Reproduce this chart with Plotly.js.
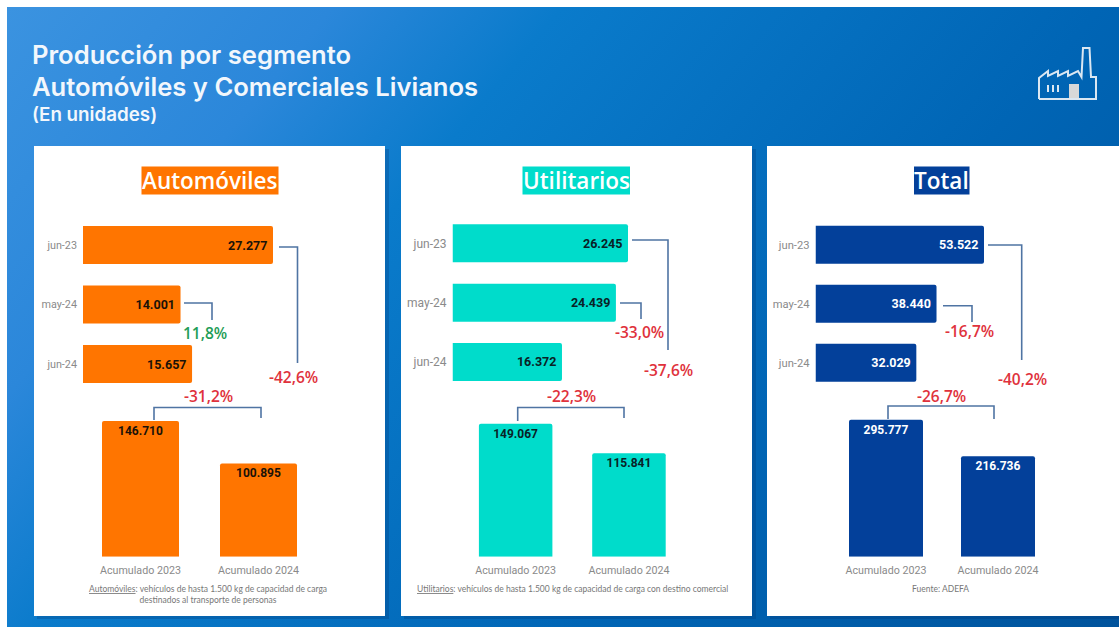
<!DOCTYPE html>
<html><head><meta charset="utf-8">
<script src="https://cdn.plot.ly/plotly-3.0.1.min.js"></script>
<style>
html,body{margin:0;padding:0;background:#fff;width:1119px;height:627px;overflow:hidden}
#bg{position:absolute;left:7px;top:7px;width:1112px;height:620px;
background:linear-gradient(130deg,#3b93e0 0%,#2b87da 20%,#0a7bcb 34%,#0065b5 67%,#00539c 100%)}
#chart{position:absolute;left:0;top:0;width:1119px;height:627px}
</style></head><body>
<div id="bg"></div><div id="chart"></div>
<script>
// ---- data ----
const monthLabels = ['jun-23','may-24','jun-24'];
const accumLabels = ['Acumulado 2023','Acumulado 2024'];
const autosMonthly = [27277,14001,15657];
const autosAccum = [146710,100895];
const utilMonthly = [26245,24439,16372];
const utilAccum = [149067,115841];
const totalMonthly = [53522,38440,32029];
const totalAccum = [295777,216736];
const autosPct = ['11,8%','-42,6%','-31,2%'];
const utilPct = ['-33,0%','-37,6%','-22,3%'];
const totalPct = ['-16,7%','-40,2%','-26,7%'];

// ---- page geometry (pixels) ----
const W=1119,H=627, px=x=>x/W, py=y=>1-y/H;
const GREEN='#1f9d57', RED='#e0323c', LINE='#4f74a3', GREY='#8a8a8a';
const HEAD='"Open Sans", sans-serif', TOP='Inter, sans-serif', NOTE='Lato, sans-serif', NUM='Roboto, sans-serif';
const panels=[
 {box:[34,146,385,616],color:'#ff7500',text:'#1a1208',title:'Automóviles',titleBox:[141.5,166.5,278.5,194.5],titleColor:'#fff',
  monthly:autosMonthly,accum:autosAccum,pct:autosPct,tick:10.8,
  h:{x0:83,pxPer:190/27277,top:215.3,pitch:59.5},v:{x0:81.5,pitch:118,width:77,bottom:556.7,pxPer:135.7/146710},
  small:[184,303,212,320],big:[279,247,297.5,363],bottom:[154,420,154,407.5,261,407.5,261,418],
  pctPos:[[205,333],[293,377],[208,396]],pctCol:[GREEN,RED,RED],
  note:'<u>Automóviles</u>: vehículos de hasta 1.500 kg de capacidad de carga<br>destinados al transporte de personas',noteXY:[208,594]},
 {box:[401,146,752,616],color:'#00dccb',text:'#0a2226',title:'Utilitarios',titleBox:[522.5,166.5,630,194.5],titleColor:'#fff',
  monthly:utilMonthly,accum:utilAccum,pct:utilPct,tick:12,
  h:{x0:452.5,pxPer:175.5/26245,top:213.7,pitch:59.3},v:{x0:459,pitch:113.3,width:73.5,bottom:556.7,pxPer:133/149067},
  small:[620,303,641,319],big:[632,240,668,350],bottom:[517.7,421,517.7,407.5,624,407.5,624,418],
  pctPos:[[639,332],[668,370],[571.5,396]],pctCol:[RED,RED,RED],
  note:'<u>Utilitarios</u>: vehículos de hasta 1.500 kg de capacidad de carga con destino comercial',noteXY:[572,589]},
 {box:[767,146,1125,616],color:'#03409a',text:'#ffffff',title:'Total',titleBox:[914,166.5,969.5,194.5],titleColor:'#fff',
  monthly:totalMonthly,accum:totalAccum,pct:totalPct,tick:11.2,
  h:{x0:815.5,pxPer:168.5/53522,top:215.2,pitch:59},v:{x0:830,pitch:112,width:74,bottom:556.7,pxPer:137/295777},
  small:[943,305.7,972,322],big:[988,245,1021.7,360],bottom:[888,419,888,406,994,406,994,419],
  pctPos:[[970,331],[1022,379],[941,396]],pctCol:[RED,RED,RED],
  note:'Fuente: ADEFA',noteXY:[940,589]}
];
const fmt=v=>String(v).replace(/\B(?=(\d{3})+$)/g,'.');

const traces=[],shapes=[],annotations=[];
const layout={width:W,height:H,margin:{l:0,r:0,t:0,b:0},paper_bgcolor:'rgba(0,0,0,0)',plot_bgcolor:'rgba(0,0,0,0)',
  showlegend:false,barcornerradius:2,hovermode:false,font:{family:NUM}};
const rect=(b,fill)=>({type:'rect',xref:'paper',yref:'paper',x0:px(b[0]),x1:px(b[2]),y0:py(b[3]),y1:py(b[1]),fillcolor:fill,line:{width:0},layer:'below'});
const poly=(pts)=>{let d='';for(let i=0;i<pts.length;i+=2)d+=(i?'L':'M')+px(pts[i])+','+py(pts[i+1]);
  return {type:'path',xref:'paper',yref:'paper',path:d,line:{color:LINE,width:1.6},layer:'above'};};

panels.forEach((p,i)=>{
  const a=2*i+1,b=2*i+2, xa='x'+(a>1?a:''), ya='y'+(a>1?a:''), xb='x'+b, yb='y'+b;
  shapes.push(rect([p.box[0]+3,p.box[1]+3,p.box[2]+4,p.box[3]+3],'rgba(0,40,100,0.22)'));
  shapes.push(rect(p.box,'#ffffff'));
  // monthly bars
  const hMax=Math.max(...p.monthly)*1.1, hW=hMax*p.h.pxPer;
  traces.push({type:'bar',orientation:'h',x:p.monthly,y:monthLabels,width:38/p.h.pitch,xaxis:xa,yaxis:ya,marker:{color:p.color},
    text:p.monthly.map(v=>fmt(v)+'\u2009'),textposition:'inside',insidetextanchor:'end',textangle:0,constraintext:'none',
    textfont:{family:NUM,size:12.5,weight:700,color:p.text},hoverinfo:'skip'});
  layout['xaxis'+(a>1?a:'')]={domain:[px(p.h.x0),px(p.h.x0+hW)],range:[0,hMax],anchor:ya,visible:false,fixedrange:true};
  layout['yaxis'+(a>1?a:'')]={domain:[py(p.h.top+3*p.h.pitch),py(p.h.top)],range:[2.5,-0.5],type:'category',anchor:xa,
    showgrid:false,zeroline:false,showline:false,ticks:'',ticklabelstandoff:5,tickfont:{family:NUM,size:p.tick,color:GREY},fixedrange:true};
  // accumulated bars
  const vMax=Math.max(...p.accum)*1.05, vH=vMax*p.v.pxPer;
  traces.push({type:'bar',x:accumLabels,y:p.accum,width:p.v.width/p.v.pitch,xaxis:xb,yaxis:yb,marker:{color:p.color},
    text:p.accum.map(fmt),textposition:'inside',insidetextanchor:'end',textangle:0,constraintext:'none',
    textfont:{family:NUM,size:12,weight:700,color:p.text},hoverinfo:'skip'});
  layout['xaxis'+b]={domain:[px(p.v.x0),px(p.v.x0+2*p.v.pitch)],range:[-0.5,1.5],type:'category',anchor:yb,
    showgrid:false,zeroline:false,showline:false,ticks:'',ticklabelstandoff:6,tickfont:{family:NUM,size:10.7,color:GREY},fixedrange:true};
  layout['yaxis'+b]={domain:[py(p.v.bottom),py(p.v.bottom-vH)],range:[0,vMax],anchor:xb,visible:false,fixedrange:true};
  // connectors
  shapes.push(poly([p.small[0],p.small[1],p.small[2],p.small[1],p.small[2],p.small[3]]));
  shapes.push(poly([p.big[0],p.big[1],p.big[2],p.big[1],p.big[2],p.big[3]]));
  shapes.push(poly(p.bottom));
  // section title
  shapes.push(rect(p.titleBox,p.color));
  annotations.push({xref:'paper',yref:'paper',x:px((p.titleBox[0]+p.titleBox[2])/2),y:py((p.titleBox[1]+p.titleBox[3])/2),
    text:p.title,showarrow:false,xanchor:'center',yanchor:'middle',font:{family:HEAD,size:22.5,weight:600,color:p.titleColor}});
  // percentages
  p.pct.forEach((t,k)=>annotations.push({xref:'paper',yref:'paper',x:px(p.pctPos[k][0]),y:py(p.pctPos[k][1]),text:t,showarrow:false,
    xanchor:'center',yanchor:'middle',font:{family:HEAD,size:15.5,weight:600,color:p.pctCol[k]}}));
  // footnote
  annotations.push({xref:'paper',yref:'paper',x:px(p.noteXY[0]),y:py(p.noteXY[1]),text:p.note,showarrow:false,
    xanchor:'center',yanchor:'middle',align:'center',font:{family:NOTE,size:8.5,color:'#777'}});
});

// header
[['Producción por segmento',54.5,25.6],['Automóviles y Comerciales Livianos',86,25.6],['(En unidades)',114.5,18.8]].forEach(h=>
  annotations.push({xref:'paper',yref:'paper',x:px(30),y:py(h[1]),text:h[0],showarrow:false,xanchor:'left',yanchor:'middle',
    font:{family:TOP,size:h[2],weight:600,color:'#f2f7fc'}}));

// factory icon
const iconLine={color:'#dbe7f2',width:2};
const iconPath=pts=>({type:'path',xref:'paper',yref:'paper',line:iconLine,layer:'above',
  path:pts.map((q,i)=>(i?'L':'M')+px(q[0])+','+py(q[1])).join('')});
shapes.push(iconPath([[1039,99],[1039,78],[1048,71],[1048,76],[1058,71],[1058,76],[1068,71],[1068,76],[1078,71],[1081.5,77],[1083,48],[1089.5,48],[1091,77],[1096,77],[1096,99],[1039,99]]));
[1048,1053,1058].forEach(x=>shapes.push(iconPath([[x,85],[x,92]])));
shapes.push({type:'rect',xref:'paper',yref:'paper',x0:px(1069),x1:px(1079),y0:py(98),y1:py(84),fillcolor:'#d8d8d8',line:{width:0}});

layout.shapes=shapes;layout.annotations=annotations;
Plotly.newPlot('chart',traces,layout,{displayModeBar:false,staticPlot:true});
</script></body></html>
